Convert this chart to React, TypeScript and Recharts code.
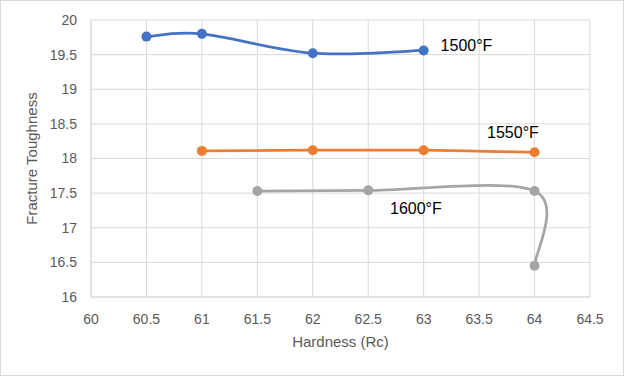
import React from 'react';
import { LineChart, Line, XAxis, YAxis, CartesianGrid, ReferenceDot } from 'recharts';

const s1500 = [
  { x: 60.5, y: 19.76 },
  { x: 61, y: 19.8 },
  { x: 62, y: 19.52 },
  { x: 63, y: 19.56 },
];
const s1550 = [
  { x: 61, y: 18.11 },
  { x: 62, y: 18.12 },
  { x: 63, y: 18.12 },
  { x: 64, y: 18.09 },
];
const s1600 = [
  { x: 61.5, y: 17.53 },
  { x: 62.5, y: 17.54 },
  { x: 64, y: 17.53 },
  { x: 64, y: 16.45 },
];
const xTicks = [60, 60.5, 61, 61.5, 62, 62.5, 63, 63.5, 64, 64.5];
const yTicks = [16, 16.5, 17, 17.5, 18, 18.5, 19, 19.5, 20];
const seriesLabels = [
  { text: '1500°F', x: 63.386, y: 19.64 },
  { text: '1550°F', x: 63.805, y: 18.383 },
  { text: '1600°F', x: 62.93, y: 17.28 },
];

// Excel-style smoothing (Catmull-Rom -> cubic Bezier, 1/6 tension)
const excelCurve: any = (context: any) => {
  let pts: number[][] = [];
  return {
    areaStart() {},
    areaEnd() {},
    lineStart() {
      pts = [];
    },
    point(x: number, y: number) {
      pts.push([+x, +y]);
    },
    lineEnd() {
      const n = pts.length;
      if (!n) return;
      context.moveTo(pts[0][0], pts[0][1]);
      for (let i = 0; i < n - 1; i++) {
        const p0 = pts[i - 1] || pts[i];
        const p1 = pts[i];
        const p2 = pts[i + 1];
        const p3 = pts[i + 2] || p2;
        const c1x = p1[0] + (p2[0] - p0[0]) / 6;
        const c1y = p1[1] + (p2[1] - p0[1]) / 6;
        const c2x = p2[0] - (p3[0] - p1[0]) / 6;
        const c2y = p2[1] - (p3[1] - p1[1]) / 6;
        context.bezierCurveTo(c1x, c1y, c2x, c2y, p2[0], p2[1]);
      }
    },
  };
};

const FONT = '"Liberation Sans", Arial, sans-serif';
const TICK = { fill: '#595959', fontSize: 14, fontFamily: FONT };

const series = [
  { data: s1500, color: '#4472C4', name: '1500' },
  { data: s1550, color: '#ED7D31', name: '1550' },
  { data: s1600, color: '#A5A5A5', name: '1600' },
];

export default function App() {
  return (
    <div style={{ position: 'absolute', left: 0, top: 0, width: 624, height: 376, background: '#fff' }}>
      <LineChart width={624} height={376} margin={{ top: 20, right: 34, bottom: 0, left: 0 }}>
        <CartesianGrid stroke="#D9D9D9" strokeWidth={1} />
        <XAxis
          type="number"
          dataKey="x"
          domain={[60, 64.5]}
          ticks={xTicks}
          interval={0}
          height={79}
          tickLine={false}
          axisLine={{ stroke: '#D9D9D9' }}
          tickMargin={11}
          tick={TICK}
          allowDataOverflow
          label={{ value: 'Hardness (Rc)', position: 'insideTop', offset: 39, fill: '#595959', fontSize: 15, fontFamily: FONT }}
        />
        <YAxis
          type="number"
          domain={[16, 20]}
          ticks={yTicks}
          interval={0}
          width={91}
          tickLine={false}
          axisLine={{ stroke: '#D9D9D9' }}
          tickMargin={8}
          tick={TICK}
          allowDataOverflow
          label={{ value: 'Fracture Toughness', angle: -90, position: 'insideLeft', offset: 32, fill: '#595959', fontSize: 15, fontFamily: FONT, style: { textAnchor: 'middle' } }}
        />
        {series.map((s) => (
          <Line
            key={s.name}
            data={s.data}
            dataKey="y"
            type={excelCurve}
            stroke={s.color}
            strokeWidth={2.75}
            dot={{ r: 5, fill: s.color, stroke: s.color, strokeWidth: 0 }}
            activeDot={false}
            isAnimationActive={false}
          />
        ))}
        {seriesLabels.map((l) => (
          <ReferenceDot
            key={l.text}
            x={l.x}
            y={l.y}
            r={0}
            fill="none"
            stroke="none"
            label={{ value: l.text, position: 'center', fill: '#000', fontSize: 16, fontFamily: FONT }}
          />
        ))}
      </LineChart>
      <div
        style={{
          position: 'absolute',
          left: 0,
          top: 0,
          width: 624,
          height: 376,
          boxSizing: 'border-box',
          border: '1px solid #D9D9D9',
          pointerEvents: 'none',
        }}
      />
    </div>
  );
}
